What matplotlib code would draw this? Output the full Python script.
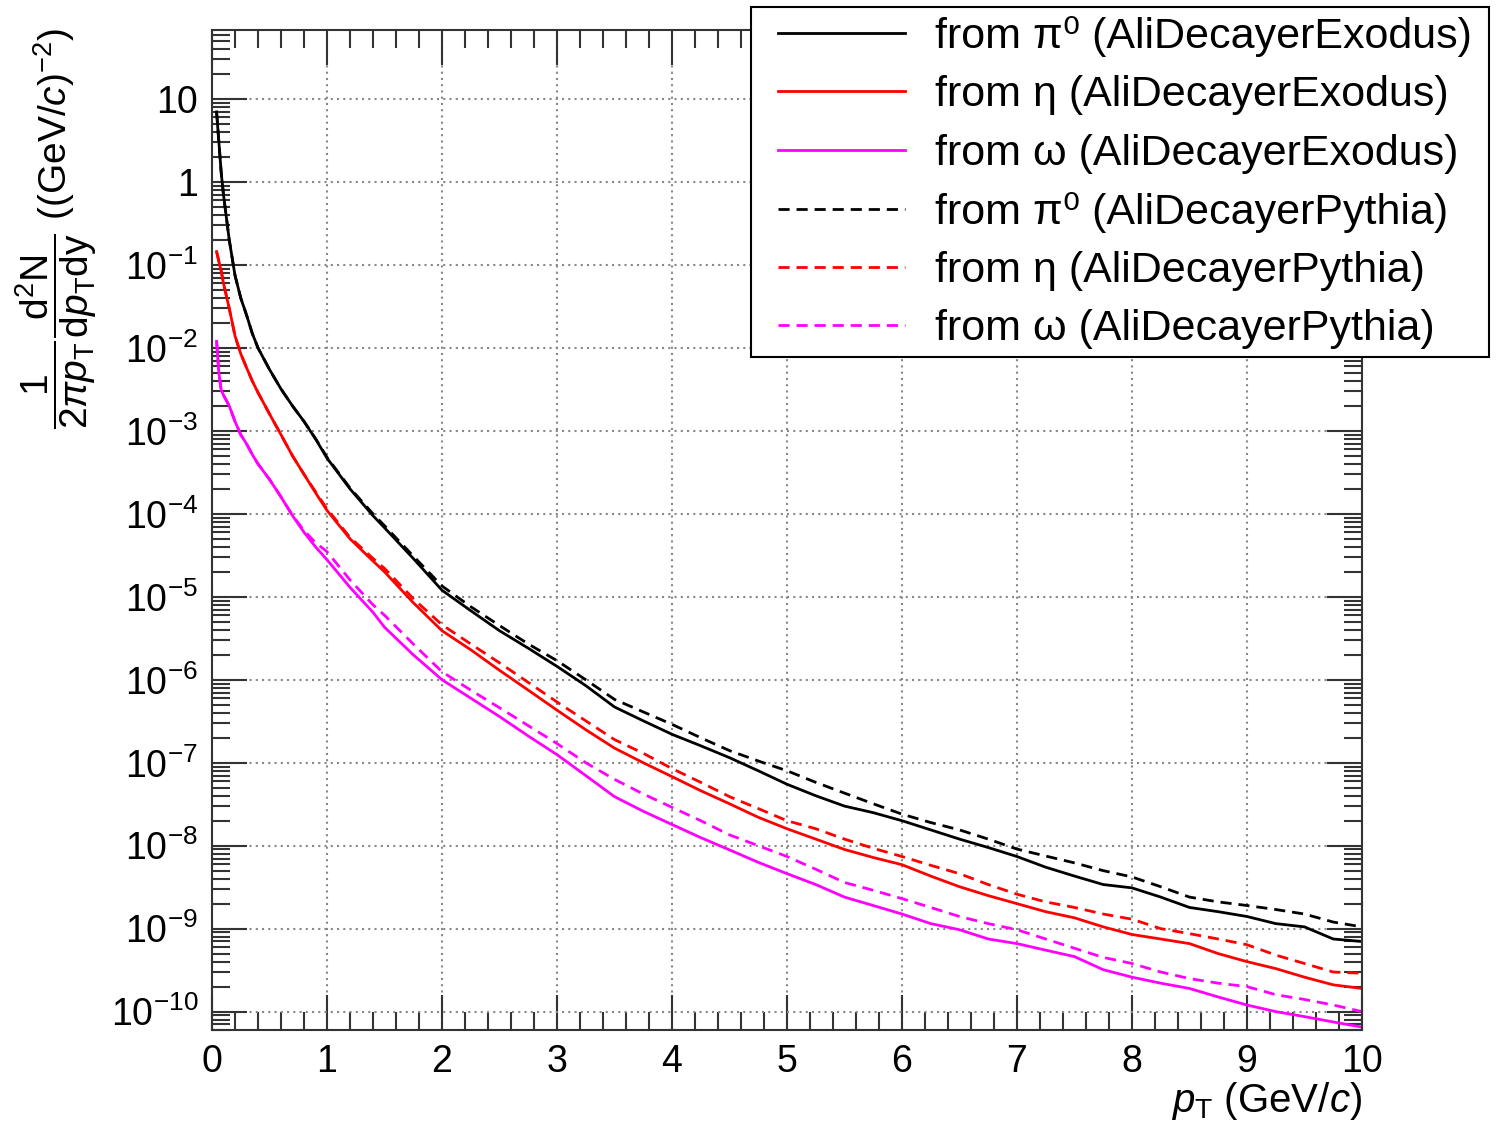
import matplotlib
matplotlib.use('Agg')
import numpy as np
import matplotlib.pyplot as plt
from matplotlib.patches import Rectangle
from matplotlib.ticker import FixedLocator, MultipleLocator, FuncFormatter, NullFormatter

plt.rcParams['font.family'] = ['Liberation Sans', 'DejaVu Sans']
plt.rcParams['mathtext.fontset'] = 'custom'
plt.rcParams['mathtext.rm'] = 'Liberation Sans'
plt.rcParams['mathtext.it'] = 'Liberation Sans:italic'
plt.rcParams['mathtext.bf'] = 'Liberation Sans:bold'

# pT bins (GeV/c)
pt = [0.04, 0.06, 0.08, 0.1, 0.15, 0.2, 0.25, 0.3, 0.35, 0.4, 0.5, 0.6, 0.7, 0.8, 0.9,
      1.0, 1.2, 1.4, 1.5, 1.75, 2.0, 2.25, 2.5, 2.75, 3.0, 3.25, 3.5, 3.75, 4.0, 4.25,
      4.5, 4.75, 5.0, 5.25, 5.5, 5.75, 6.0, 6.25, 6.5, 6.75, 7.0, 7.25, 7.5, 7.75, 8.0,
      8.25, 8.5, 8.75, 9.0, 9.25, 9.5, 9.75, 10.0]

pi0_exodus = [7.0, 3.0, 1.3, 0.7, 0.2, 0.075, 0.04, 0.025, 0.015, 0.01, 5.5e-3, 3.2e-3,
              2.0e-3, 1.3e-3, 8.0e-4, 4.7e-4, 2.0e-4, 9.5e-5, 6.8e-5, 2.9e-5, 1.2e-5,
              6.8e-6, 3.9e-6, 2.4e-6, 1.45e-6, 8.5e-7, 4.7e-7, 3.2e-7, 2.2e-7, 1.6e-7,
              1.15e-7, 8.0e-8, 5.5e-8, 4.0e-8, 3.0e-8, 2.5e-8, 2.0e-8, 1.55e-8, 1.2e-8,
              9.5e-9, 7.4e-9, 5.5e-9, 4.3e-9, 3.4e-9, 3.1e-9, 2.4e-9, 1.8e-9, 1.6e-9,
              1.4e-9, 1.15e-9, 1.05e-9, 7.5e-10, 7.0e-10]
pi0_pythia = [7.0, 3.0, 1.3, 0.7, 0.2, 0.075, 0.04, 0.025, 0.015, 0.01, 5.5e-3, 3.2e-3,
              2.0e-3, 1.3e-3, 8.1e-4, 4.8e-4, 2.05e-4, 1.0e-4, 7.2e-5, 3.1e-5, 1.35e-5,
              7.6e-6, 4.5e-6, 2.7e-6, 1.7e-6, 1.0e-6, 5.8e-7, 4.1e-7, 2.9e-7, 2.0e-7,
              1.4e-7, 1.05e-7, 8.0e-8, 5.8e-8, 4.3e-8, 3.2e-8, 2.4e-8, 1.9e-8, 1.55e-8,
              1.2e-8, 9.1e-9, 7.5e-9, 6.2e-9, 5.0e-9, 4.2e-9, 3.2e-9, 2.4e-9, 2.1e-9,
              1.9e-9, 1.7e-9, 1.5e-9, 1.2e-9, 1.05e-9]
eta_exodus = [0.145, 0.11, 0.085, 0.06, 0.03, 0.014, 8.5e-3, 5.8e-3, 4.0e-3, 2.9e-3,
              1.6e-3, 9.0e-4, 5.0e-4, 3.0e-4, 1.8e-4, 1.1e-4, 5.0e-5, 2.7e-5, 2.0e-5,
              8.5e-6, 3.9e-6, 2.3e-6, 1.3e-6, 7.5e-7, 4.3e-7, 2.5e-7, 1.5e-7, 1.0e-7,
              6.8e-8, 4.6e-8, 3.2e-8, 2.2e-8, 1.6e-8, 1.2e-8, 9.0e-9, 7.2e-9, 5.9e-9,
              4.3e-9, 3.2e-9, 2.5e-9, 2.0e-9, 1.6e-9, 1.35e-9, 1.05e-9, 8.5e-10, 7.5e-10,
              6.6e-10, 5.0e-10, 4.0e-10, 3.3e-10, 2.6e-10, 2.1e-10, 1.9e-10]
eta_pythia = [0.145, 0.11, 0.085, 0.06, 0.03, 0.014, 8.5e-3, 5.8e-3, 4.0e-3, 2.9e-3,
              1.6e-3, 9.0e-4, 5.0e-4, 3.0e-4, 1.85e-4, 1.15e-4, 5.2e-5, 2.9e-5, 2.2e-5,
              9.5e-6, 4.6e-6, 2.7e-6, 1.6e-6, 9.3e-7, 5.4e-7, 3.2e-7, 1.9e-7, 1.3e-7,
              8.5e-8, 5.8e-8, 3.9e-8, 2.8e-8, 2.0e-8, 1.6e-8, 1.2e-8, 9.3e-9, 7.4e-9,
              5.8e-9, 4.6e-9, 3.4e-9, 2.6e-9, 2.1e-9, 1.8e-9, 1.5e-9, 1.3e-9, 1.0e-9,
              8.7e-10, 7.5e-10, 6.4e-10, 4.8e-10, 3.8e-10, 3.0e-10, 2.9e-10]
omega_exodus = [0.012, 5.0e-3, 3.1e-3, 2.7e-3, 2.0e-3, 1.3e-3, 9.0e-4, 7.0e-4, 5.2e-4,
                4.0e-4, 2.6e-4, 1.6e-4, 9.5e-5, 6.0e-5, 4.0e-5, 2.8e-5, 1.3e-5, 6.5e-6,
                4.3e-6, 2.0e-6, 1.0e-6, 6.0e-7, 3.6e-7, 2.1e-7, 1.25e-7, 7.0e-8, 3.9e-8,
                2.6e-8, 1.8e-8, 1.25e-8, 8.9e-9, 6.3e-9, 4.6e-9, 3.4e-9, 2.4e-9, 1.9e-9,
                1.5e-9, 1.15e-9, 9.7e-10, 7.5e-10, 6.6e-10, 5.5e-10, 4.6e-10, 3.2e-10,
                2.6e-10, 2.2e-10, 1.9e-10, 1.5e-10, 1.2e-10, 1.0e-10, 8.7e-11, 7.5e-11,
                6.5e-11]
omega_pythia = [0.012, 5.0e-3, 3.1e-3, 2.7e-3, 2.0e-3, 1.3e-3, 9.0e-4, 7.0e-4, 5.2e-4,
                4.0e-4, 2.6e-4, 1.6e-4, 9.6e-5, 6.3e-5, 4.5e-5, 3.5e-5, 1.6e-5, 8.0e-6,
                6.0e-6, 2.7e-6, 1.25e-6, 7.5e-7, 4.6e-7, 2.8e-7, 1.7e-7, 1.0e-7, 6.3e-8,
                4.2e-8, 2.9e-8, 2.0e-8, 1.35e-8, 1.0e-8, 7.4e-9, 5.2e-9, 3.6e-9, 2.9e-9,
                2.3e-9, 1.8e-9, 1.4e-9, 1.15e-9, 9.7e-10, 7.5e-10, 5.8e-10, 4.5e-10,
                3.8e-10, 3.0e-10, 2.5e-10, 2.2e-10, 2.0e-10, 1.6e-10, 1.4e-10, 1.2e-10,
                1.0e-10]

ymajor = [10.0 ** e for e in range(-10, 2)]
dash = (0, (4, 2.5))

fig = plt.figure(figsize=(15.03, 11.29), dpi=100)
ax = fig.add_axes([212 / 1503, 1 - 1030 / 1129, 1150 / 1503, 1000 / 1129])

ax.plot(pt, pi0_exodus, color='black', lw=2, label='from π⁰ (AliDecayerExodus)')
ax.plot(pt, eta_exodus, color='#ff0000', lw=2, label='from η (AliDecayerExodus)')
ax.plot(pt, omega_exodus, color='#ff00ff', lw=2, label='from ω (AliDecayerExodus)')
ax.plot(pt, pi0_pythia, color='black', lw=2, ls=dash, label='from π⁰ (AliDecayerPythia)')
ax.plot(pt, eta_pythia, color='#ff0000', lw=2, ls=dash, label='from η (AliDecayerPythia)')
ax.plot(pt, omega_pythia, color='#ff00ff', lw=2, ls=dash, label='from ω (AliDecayerPythia)')

ax.set_yscale('log')
ax.set_xlim(0, 10)
ax.set_ylim(6e-11, 68)


def ylab(v, pos):
    e = int(round(np.log10(v)))
    if e == 1:
        return '10'
    if e == 0:
        return '1'
    return r'$10^{%d}$' % e


yminor = [m * 10.0 ** e for e in range(-11, 2) for m in range(2, 10)]
yminor = [v for v in yminor if 6e-11 <= v <= 68]
ax.yaxis.set_major_locator(FixedLocator(ymajor))
ax.yaxis.set_minor_locator(FixedLocator(yminor))
ax.yaxis.set_major_formatter(FuncFormatter(ylab))
ax.yaxis.set_minor_formatter(NullFormatter())
ax.xaxis.set_major_locator(MultipleLocator(1))
ax.xaxis.set_minor_locator(MultipleLocator(0.2))

ax.tick_params(which='both', direction='in', top=True, right=True, colors='#333333',
               labelcolor='black', width=1.5)
ax.tick_params(which='major', length=25, labelsize=27, pad=10)
ax.tick_params(which='minor', length=13)
for s in ax.spines.values():
    s.set_linewidth(1.5)
    s.set_color('#333333')

ax.grid(True, which='major', ls=(0, (1, 2)), color='#888888', lw=1.5)
ax.set_axisbelow(True)

ax.set_xlabel(r'$p_{\mathrm{T}}$ (GeV/$c$)', fontsize=29, loc='right', labelpad=0)
fig.text(56 / 1503, 1 - 28 / 1129,
         r'$\dfrac{1}{2\pi p_{\mathrm{T}}}\dfrac{\mathrm{d^{2}N}}{\mathrm{d}p_{\mathrm{T}}\mathrm{dy}}$ ((GeV/$c$)$^{-2}$)',
         fontsize=28, rotation=90, ha='center', va='top')

# legend box (white, covers the grid) and the legend entries on top of it
box = Rectangle((751 / 1503, 1 - 357 / 1129), 738 / 1503, 350 / 1129,
                transform=fig.transFigure, facecolor='white', edgecolor='black',
                lw=1.5, zorder=4)
fig.add_artist(box)
handles, labels = ax.get_legend_handles_labels()
leg = fig.legend(handles, labels, loc='upper left',
                 bbox_to_anchor=(778 / 1503, 1 - 16 / 1129), borderaxespad=0,
                 borderpad=0, fontsize=31, frameon=False, handlelength=2.95,
                 handletextpad=0.7, labelspacing=0.425)
leg.set_zorder(5)

fig.savefig('out.png', dpi=100)
